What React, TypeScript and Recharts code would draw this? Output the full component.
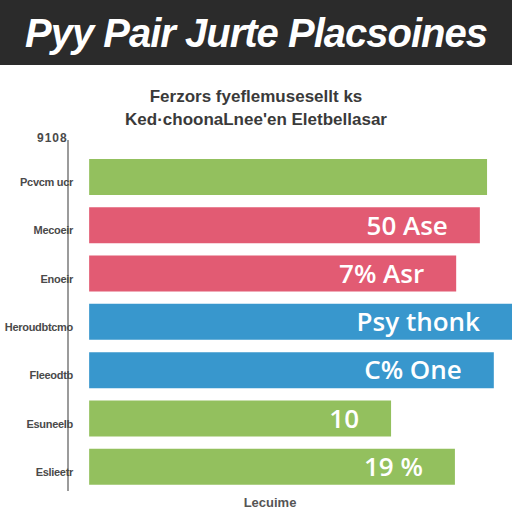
import React from 'react';
import { BarChart, Bar, XAxis, YAxis, Cell, LabelList } from 'recharts';

const categories = ['Pcvcm ucr', 'Mecoeir', 'Enoeir', 'Heroudbtcmo', 'Fleeodtb', 'Esuneelb', 'Eslieetr'];
const values = [94.1, 92.4, 86.8, 100, 95.7, 71.4, 86.5];
const barLabels = ['', '50 Ase', '7% Asr', 'Psy thonk', 'C% One', '10', '19 %'];
const barColors = ['#93c05e', '#e25b73', '#e25b73', '#3897cd', '#3897cd', '#93c05e', '#93c05e'];
const xDomain = [-5, 100];

const titleText = 'Pyy Pair Jurte Placsoines';
const subtitle1 = 'Ferzors fyeflemusesellt ks';
const subtitle2 = "Ked·choonaLnee'en Eletbellasar";
const axisTopLabel = '9108';
const xAxisLabel = 'Lecuime';

const data = categories.map((c, i) => ({ name: c, value: values[i], label: barLabels[i] }));

const CatTick = (props: any) => {
  const { x, y, payload } = props;
  return (
    <text
      x={x + 5}
      y={y + 5}
      textAnchor="end"
      dominantBaseline="central"
      fontSize={11}
      fontWeight="bold"
      letterSpacing={-0.3}
      fontFamily="Liberation Sans, Arial, sans-serif"
      fill="#4a4a4a"
    >
      {payload.value}
    </text>
  );
};

export default function App() {
  return (
    <div style={{ position: 'absolute', left: 0, top: 0, width: 512, height: 512, background: '#ffffff', overflow: 'hidden' }}>
      <div style={{ position: 'absolute', left: 0, top: 0 }}>
        <BarChart
          width={512}
          height={512}
          layout="vertical"
          data={data}
          margin={{ top: 140, right: 0, bottom: 21, left: 0 }}
        >
          <XAxis type="number" domain={xDomain} hide allowDataOverflow />
          <YAxis
            type="category"
            dataKey="name"
            width={68}
            padding={{ top: 13, bottom: 0 }}
            axisLine={{ stroke: '#7a7a7a', strokeWidth: 1.5 }}
            tickLine={false}
            tickSize={0}
            tickMargin={0}
            tick={<CatTick />}
            interval={0}
          />
          <Bar dataKey="value" barSize={36} isAnimationActive={false}>
            {data.map((d, i) => (
              <Cell key={i} fill={barColors[i]} />
            ))}
            <LabelList
              dataKey="label"
              position="insideRight"
              offset={32}
              fill="#ffffff"
              fontSize={26}
              fontWeight={600}
              fontFamily="Open Sans, sans-serif"
            />
          </Bar>
        </BarChart>
      </div>
      <div
        style={{
          position: 'absolute', left: 0, top: 0, width: 512, height: 65, background: '#2b2b2b',
          color: '#ffffff', fontFamily: 'Liberation Sans, Arial, sans-serif', fontWeight: 'bold',
          fontStyle: 'italic', fontSize: 40, lineHeight: '66px', textAlign: 'center', letterSpacing: -1,
        }}
      >
        {titleText}
      </div>
      <div
        style={{
          position: 'absolute', left: 0, width: 512, top: 87, textAlign: 'center', fontSize: 17,
          lineHeight: '20px', fontWeight: 'bold', color: '#3a3a3a', fontFamily: 'Liberation Sans, Arial, sans-serif',
        }}
      >
        {subtitle1}
      </div>
      <div
        style={{
          position: 'absolute', left: 0, width: 512, top: 110, textAlign: 'center', fontSize: 17,
          lineHeight: '20px', fontWeight: 'bold', color: '#3a3a3a', fontFamily: 'Liberation Sans, Arial, sans-serif',
        }}
      >
        {subtitle2}
      </div>
      <div
        style={{
          position: 'absolute', left: 37, top: 131, fontSize: 12, fontWeight: 'bold', color: '#4a4a4a',
          fontFamily: 'Liberation Sans, Arial, sans-serif', lineHeight: '14px', letterSpacing: 1,
        }}
      >
        {axisTopLabel}
      </div>
      <div
        style={{
          position: 'absolute', left: 170, width: 200, top: 496, textAlign: 'center', fontSize: 13,
          fontWeight: 'bold', color: '#555555', fontFamily: 'Liberation Sans, Arial, sans-serif', lineHeight: '14px',
        }}
      >
        {xAxisLabel}
      </div>
    </div>
  );
}
